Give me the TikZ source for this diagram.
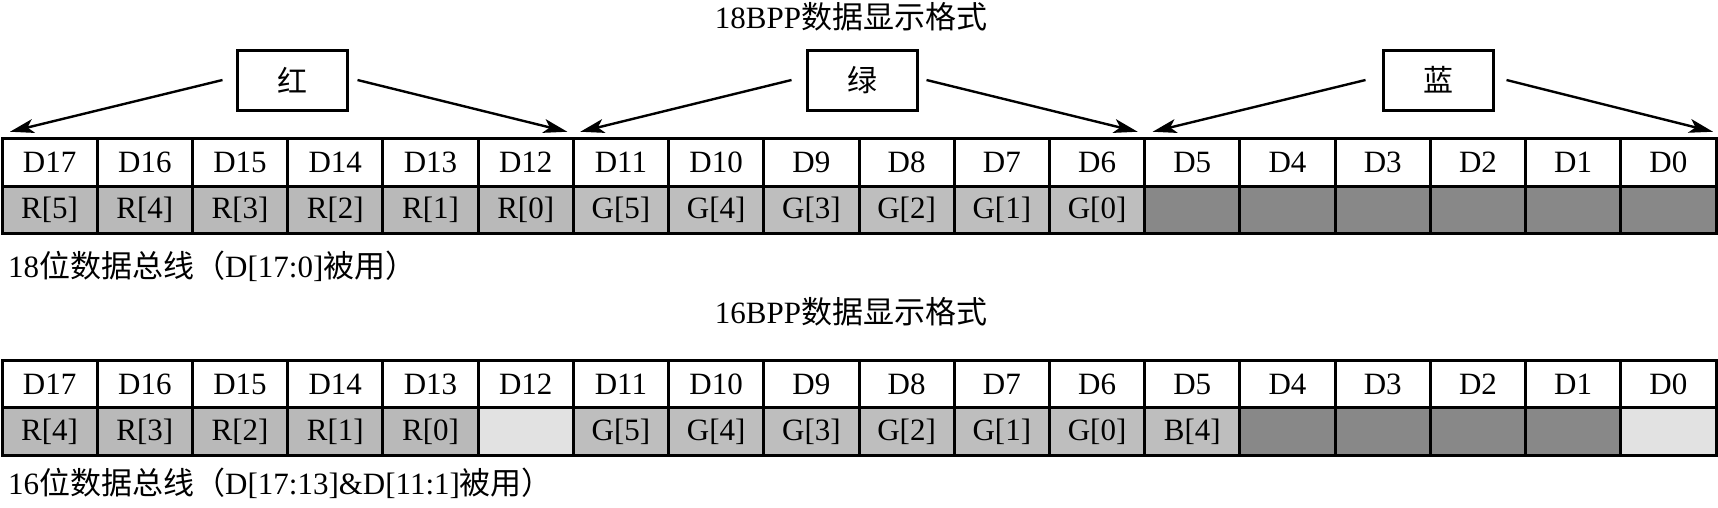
\documentclass[tikz,border=0pt]{standalone}
\usepackage{fontspec}
\setmainfont{Liberation Serif}
\newfontfamily\cjk{Noto Sans CJK SC}
\usetikzlibrary{arrows.meta}
\definecolor{rgray}{RGB}{185,185,185}
\definecolor{ggray}{RGB}{190,190,190}
\definecolor{dgray}{RGB}{136,136,136}
\definecolor{lgray}{RGB}{226,226,226}
\tikzset{
 cell/.style={draw, line width=3pt, minimum width=95.22pt, minimum height=47.5pt, inner sep=0pt, outer sep=0pt, font=\fontsize{31}{36}\selectfont},
 colorbox/.style={draw, line width=3pt, minimum width=110pt, minimum height=60pt, inner sep=0pt, font=\cjk\fontsize{30}{36}\selectfont},
 arr/.style={line width=2.4pt, -{Stealth[length=24pt,width=14pt,inset=6pt]}},
 txt/.style={inner sep=0pt, font=\fontsize{31}{36}\selectfont},
}
\begin{document}
\begin{tikzpicture}[x=1pt,y=-1pt]
\useasboundingbox (0,0) rectangle (1718,507);
% titles
\node[txt] (title1) at (851,17) {18BPP{\cjk 数据显示格式}};
\node[txt] (title2) at (851,312) {16BPP{\cjk 数据显示格式}};
% header rows
\foreach \i/\lab in {0/D17,1/D16,2/D15,3/D14,4/D13,5/D12,6/D11,7/D10,8/D9,9/D8,10/D7,11/D6,12/D5,13/D4,14/D3,15/D2,16/D1,17/D0}{
  \node[cell] (a\i) at ({2+95.222*(\i+0.5)},162.5) {\lab};
  \node[cell] (c\i) at ({2+95.222*(\i+0.5)},384) {\lab};
}
\foreach \i/\lab/\col in {0/R[5]/rgray,1/R[4]/rgray,2/R[3]/rgray,3/R[2]/rgray,4/R[1]/rgray,5/R[0]/rgray,
  6/G[5]/ggray,7/G[4]/ggray,8/G[3]/ggray,9/G[2]/ggray,10/G[1]/ggray,11/G[0]/ggray,
  12//dgray,13//dgray,14//dgray,15//dgray,16//dgray,17//dgray}{
  \node[cell,fill=\col] (b\i) at ({2+95.222*(\i+0.5)},210) {\lab};
}
\foreach \i/\lab/\col in {0/R[4]/rgray,1/R[3]/rgray,2/R[2]/rgray,3/R[1]/rgray,4/R[0]/rgray,5//lgray,
  6/G[5]/ggray,7/G[4]/ggray,8/G[3]/ggray,9/G[2]/ggray,10/G[1]/ggray,11/G[0]/ggray,
  12/B[4]/ggray,13//dgray,14//dgray,15//dgray,16//dgray,17//lgray}{
  \node[cell,fill=\col] (d\i) at ({2+95.222*(\i+0.5)},431.5) {\lab};
}
% colour boxes
\node[colorbox] (red) at (292,80) {红};
\node[colorbox] (green) at (862,80) {绿};
\node[colorbox] (blue) at (1438,80) {蓝};
\draw[arr] ([xshift=-13pt]red.west) -- ([xshift=8pt,yshift=7pt]a0.north west);
\draw[arr] ([xshift=9pt]red.east) -- ([xshift=-6pt,yshift=7pt]a5.north east);
\draw[arr] ([xshift=-14pt]green.west) -- ([xshift=7pt,yshift=7pt]a6.north west);
\draw[arr] ([xshift=8pt]green.east) -- ([xshift=-7pt,yshift=7pt]a11.north east);
\draw[arr] ([xshift=-16pt]blue.west) -- ([xshift=8pt,yshift=7pt]a12.north west);
\draw[arr] ([xshift=12pt]blue.east) -- ([xshift=-3pt,yshift=7pt]a17.north east);
% bus notes
\node[txt,anchor=west] (note1) at (8,266) {18{\cjk 位数据总线（}D[17:0]{\cjk 被用）}};
\node[txt,anchor=west] (note2) at (8,483) {16{\cjk 位数据总线（}D[17:13]\&D[11:1]{\cjk 被用）}};
\end{tikzpicture}
\end{document}
